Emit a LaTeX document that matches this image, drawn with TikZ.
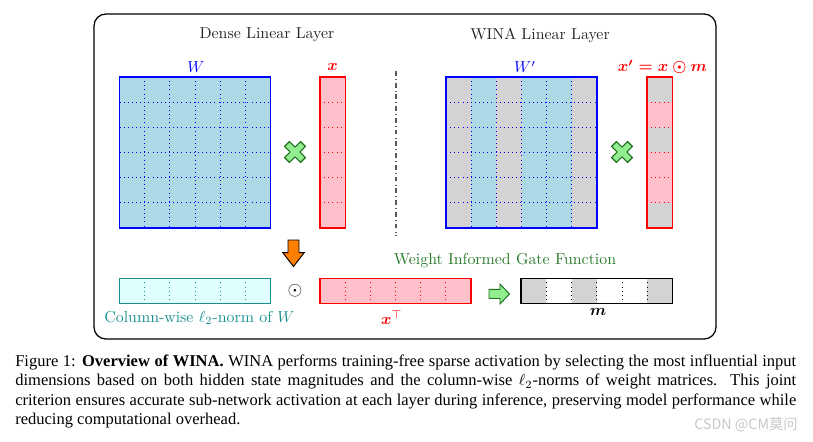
\documentclass[tikz,border=0pt]{standalone}
\usepackage{amsmath,amssymb}
\usepackage{fontspec}
\newfontfamily\capfont{Liberation Serif}
\newfontfamily\cjkfont{Noto Sans CJK SC}
\definecolor{lblue}{HTML}{ADD8E6}
\definecolor{lgray}{HTML}{D3D3D3}
\definecolor{lpink}{HTML}{FFC0CB}
\definecolor{lcyan}{HTML}{E0FFFF}
\definecolor{lgreen}{HTML}{90EE90}
\definecolor{dgreen}{HTML}{2A7A2A}
\definecolor{tealc}{HTML}{1A9090}
\definecolor{xgreen}{HTML}{1E6E1E}
\tikzset{
  frame/.style={line width=0.8pt},
  gdot/.style={dotted, line width=0.6pt},
  titletext/.style={text=black!85, inner sep=0pt},
  lbl/.style={inner sep=0pt},
}
\begin{document}
\begin{tikzpicture}[x=0.63pt,y=-0.63pt]
\useasboundingbox (0,0) rectangle (813,442);
% outer frame
\draw[line width=0.8pt, rounded corners=7.5pt] (94,14) rectangle (716,339);
% titles
\node[titletext] (tdense) at (267,35) {Dense Linear Layer};
\node[titletext] (twina) at (540,35) {WINA Linear Layer};
% ---------- dense W
\fill[lblue] (119.5,77) rectangle (270.5,228);
\foreach \i in {1,...,5}{
  \draw[gdot, blue] ({119.5+\i*151/6},77) -- ++(0,151);
  \draw[gdot, blue] (119.5,{77+\i*151/6}) -- ++(151,0);
}
\draw[frame, blue] (119.5,77) rectangle (270.5,228);
\node[lbl, text=blue] (lW) at (196,67) {$W$};
% x vector
\fill[lpink] (320,77) rectangle (345.5,228);
\foreach \i in {1,...,5}{
  \draw[gdot, red] (320,{77+\i*151/6}) -- ++(25.5,0);
}
\draw[frame, red] (320,77) rectangle (345.5,228);
\node[lbl, text=red] (lx) at (332.5,67) {$\boldsymbol{x}$};
% cross 1
\begin{scope}[shift={(295,152)}, rotate=45]
\draw[xgreen, fill=lgreen, line width=0.7pt, line join=round]
  (3.5,11.3) -- (3.5,3.5) -- (11.3,3.5) -- (11.3,-3.5) -- (3.5,-3.5) -- (3.5,-11.3)
  -- (-3.5,-11.3) -- (-3.5,-3.5) -- (-11.3,-3.5) -- (-11.3,3.5) -- (-3.5,3.5) -- (-3.5,11.3) -- cycle;
\end{scope}
% divider
\draw[black!65, dash dot, line width=0.8pt] (396,71) -- (396,236);
% ---------- WINA W'
\foreach \c/\col in {0/lgray,1/lblue,2/lgray,3/lblue,4/lblue,5/lgray}{
  \fill[\col] ({446+\c*151/6},77) rectangle ++(151/6,151);
}
\foreach \i in {1,...,5}{
  \draw[gdot, blue] ({446+\i*151/6},77) -- ++(0,151);
  \draw[gdot, blue] (446,{77+\i*151/6}) -- ++(151,0);
}
\draw[frame, blue] (446,77) rectangle (597,228);
\node[lbl, text=blue] (lWp) at (525,67) {$W'$};
% x' vector
\foreach \r/\col in {0/lgray,1/lpink,2/lgray,3/lpink,4/lpink,5/lgray}{
  \fill[\col] (647,{77+\r*151/6}) rectangle ++(25.5,151/6);
}
\foreach \i in {1,...,5}{
  \draw[gdot, red] (647,{77+\i*151/6}) -- ++(25.5,0);
}
\draw[frame, red] (647,77) rectangle (672.5,228);
\node[lbl, text=red] (lxp) at (662.5,67) {$\boldsymbol{x'=x\odot m}$};
% cross 2
\begin{scope}[shift={(622,152)}, rotate=45]
\draw[xgreen, fill=lgreen, line width=0.7pt, line join=round]
  (3.5,11.3) -- (3.5,3.5) -- (11.3,3.5) -- (11.3,-3.5) -- (3.5,-3.5) -- (3.5,-11.3)
  -- (-3.5,-11.3) -- (-3.5,-3.5) -- (-11.3,-3.5) -- (-11.3,3.5) -- (-3.5,3.5) -- (-3.5,11.3) -- cycle;
\end{scope}
% ---------- orange down arrow
\draw[fill=orange, line width=0.6pt, line join=miter]
  (288,240) -- (299,240) -- (299,252.7) -- (304.2,252.7) -- (293.5,266.5)
  -- (282.8,252.7) -- (288,252.7) -- cycle;
% ---------- bottom row
% norm vector
\fill[lcyan] (119.5,278.3) rectangle (270.5,303.3);
\foreach \i in {1,...,5}{
  \draw[gdot, tealc] ({119.5+\i*151/6},278.3) -- ++(0,25);
}
\draw[frame, tealc] (119.5,278.3) rectangle (270.5,303.3);
\node[lbl, text=tealc] (lnorm) at (199.5,318) {Column-wise $\ell_2$-norm of $W$};
% odot
\node[lbl] (od) at (295,291) {\large$\odot$};
% x transpose
\fill[lpink] (320,278.3) rectangle (471,303.3);
\foreach \i in {1,...,5}{
  \draw[gdot, red] ({320+\i*151/6},278.3) -- ++(0,25);
}
\draw[frame, red] (320,278.3) rectangle (471,303.3);
\node[lbl, text=red] (lxT) at (391.7,318) {$\boldsymbol{x}^{\top}$};
% gate label
\node[lbl, text=dgreen] (lgate) at (505,261) {Weight Informed Gate Function};
% green right arrow
\draw[xgreen, fill=lgreen, line width=0.6pt, line join=miter]
  (489,289.3) -- (500,289.3) -- (500,284) -- (509.5,294) -- (500,304)
  -- (500,298.5) -- (489,298.5) -- cycle;
% mask
\foreach \c/\col in {0/lgray,1/white,2/lgray,3/white,4/white,5/lgray}{
  \fill[\col] ({521+\c*151.5/6},278.3) rectangle ++(151.5/6,25);
}
\foreach \i in {1,...,5}{
  \draw[gdot, black] ({521+\i*151.5/6},278.3) -- ++(0,25);
}
\draw[frame, black] (521,278.3) rectangle (672.5,303.3);
\node[lbl] (lm) at (598,311.5) {$\boldsymbol{m}$};
% ---------- caption
\node[anchor=north west, inner sep=0pt, text width=492pt, align=justify] (cap) at (15,355)
{\capfont\fontsize{10.4}{11.34}\selectfont
Figure 1: \textbf{Overview of WINA.} WINA performs training-free sparse activation by selecting the most influential input\linebreak
dimensions based on both hidden state magnitudes and the column-wise $\ell_2$-norms of weight matrices.\ \ This joint\linebreak
criterion ensures accurate sub-network activation at each layer during inference, preserving model performance while\linebreak
reducing computational overhead.};
\node[inner sep=0pt, text=black!22] (wm) at (746,425) {\cjkfont\fontsize{9}{10}\selectfont CSDN @CM莫问};
\end{tikzpicture}
\end{document}
